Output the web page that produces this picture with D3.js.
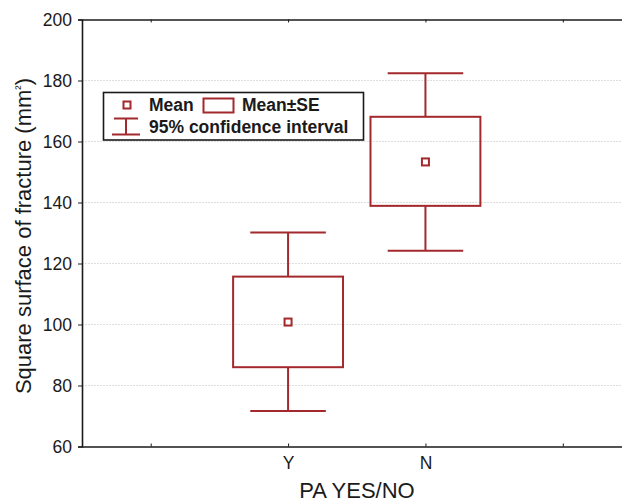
<!DOCTYPE html>
<html>
<head>
<meta charset="utf-8">
<script src="https://cdn.jsdelivr.net/npm/d3@7"></script>
<style>
    body { margin: 0; background: #fff; }
    svg { display: block; font-family: "Liberation Sans", Arial, sans-serif; }
</style>
</head>
<body>
<svg id="chart" width="622" height="503"></svg>
<script>
// data
const categories = ["Y", "N"];
const means = [100.8, 153.3];
const seLow = [86.0, 138.9];
const seHigh = [115.7, 168.1];
const ciLow = [71.6, 124.2];
const ciHigh = [130.2, 182.4];
const yTicks = [60, 80, 100, 120, 140, 160, 180, 200];
const xTickPos = [0, 1, 2, 3];

const red = "#a3292d";
const ink = "#1a1a1a";

const svg = d3.select("#chart");

// x positions: category i sits at i + 1
const x = d3.scaleLinear().domain([-0.5, 3.5]).range([82, 631.5]);
const y = d3.scaleLinear().domain([60, 200]).range([446.5, 19.5]);

// grid lines
svg.append("g")
    .selectAll("line")
    .data(yTicks.filter(d => d > 60 && d < 200))
    .join("line")
    .attr("x1", x(-0.5))
    .attr("x2", x(3.5))
    .attr("y1", d => y(d))
    .attr("y2", d => y(d))
    .attr("stroke", "#dedede")
    .attr("stroke-width", 1)
    .attr("stroke-dasharray", "2,1");

// left axis
const yAxis = svg.append("g")
    .attr("transform", `translate(${x(-0.5)},0)`)
    .call(d3.axisLeft(y).tickValues(yTicks).tickSize(4).tickPadding(6));
yAxis.select(".domain").attr("stroke", ink).attr("stroke-width", 1.6);
yAxis.selectAll(".tick line").attr("stroke", ink);
yAxis.selectAll(".tick text")
    .attr("fill", ink)
    .style("font-size", "17.5px")
    .style("font-family", "'Liberation Sans', Arial, sans-serif");

// bottom axis (ticks point inward)
const xAxis = svg.append("g")
    .attr("transform", `translate(0,${y(60)})`)
    .call(d3.axisBottom(x).tickValues(xTickPos).tickSizeInner(-3).tickSizeOuter(0)
        .tickPadding(10)
        .tickFormat(d => (d >= 1 && d <= categories.length) ? categories[d - 1] : ""));
xAxis.select(".domain").attr("stroke", ink).attr("stroke-width", 1.6);
xAxis.selectAll(".tick line").attr("stroke", ink);
xAxis.selectAll(".tick text")
    .attr("fill", ink)
    .style("font-size", "17.5px")
    .style("font-family", "'Liberation Sans', Arial, sans-serif");

// top frame
const topAxis = svg.append("g")
    .attr("transform", `translate(0,${y(200)})`)
    .call(d3.axisTop(x).tickValues(xTickPos).tickSizeInner(-3).tickSizeOuter(0).tickFormat(""));
topAxis.select(".domain").attr("stroke", ink).attr("stroke-width", 1.6);
topAxis.selectAll(".tick line").attr("stroke", ink);

// axis titles
const yTitle = svg.append("text")
    .attr("transform", "rotate(-90)")
    .attr("x", -y(129))
    .attr("y", 31)
    .attr("text-anchor", "middle")
    .attr("fill", ink)
    .style("font-size", "22px")
    .text("Square surface of fracture (mm");
yTitle.append("tspan")
    .attr("dy", "-7")
    .style("font-size", "13px")
    .text("²");
yTitle.append("tspan")
    .attr("dy", "7")
    .text(")");

svg.append("text")
    .attr("x", 357)
    .attr("y", 498)
    .attr("text-anchor", "middle")
    .attr("fill", ink)
    .style("font-size", "22px")
    .text("PA YES/NO");

// plot groups
const boxW = 0.8, capW = 0.55;
const groups = svg.append("g")
    .selectAll("g")
    .data(categories.map((c, i) => ({ c, i })))
    .join("g")
    .attr("fill", "none")
    .attr("stroke", red)
    .attr("stroke-width", 2);

// whiskers
groups.append("line")
    .attr("x1", d => x(d.i + 1)).attr("x2", d => x(d.i + 1))
    .attr("y1", d => y(ciHigh[d.i])).attr("y2", d => y(seHigh[d.i]));
groups.append("line")
    .attr("x1", d => x(d.i + 1)).attr("x2", d => x(d.i + 1))
    .attr("y1", d => y(seLow[d.i])).attr("y2", d => y(ciLow[d.i]));
// caps
groups.append("line")
    .attr("x1", d => x(d.i + 1 - capW / 2)).attr("x2", d => x(d.i + 1 + capW / 2))
    .attr("y1", d => y(ciHigh[d.i])).attr("y2", d => y(ciHigh[d.i]));
groups.append("line")
    .attr("x1", d => x(d.i + 1 - capW / 2)).attr("x2", d => x(d.i + 1 + capW / 2))
    .attr("y1", d => y(ciLow[d.i])).attr("y2", d => y(ciLow[d.i]));
// SE box
groups.append("rect")
    .attr("x", d => x(d.i + 1 - boxW / 2))
    .attr("width", d => x(d.i + 1 + boxW / 2) - x(d.i + 1 - boxW / 2))
    .attr("y", d => y(seHigh[d.i]))
    .attr("height", d => y(seLow[d.i]) - y(seHigh[d.i]));
// mean marker
groups.append("rect")
    .attr("x", d => x(d.i + 1) - 3.5)
    .attr("y", d => y(means[d.i]) - 3.5)
    .attr("width", 7)
    .attr("height", 7);

// legend
const lg = svg.append("g");
lg.append("rect")
    .attr("x", 103.5).attr("y", 92.5)
    .attr("width", 260).attr("height", 47.5)
    .attr("fill", "#fff")
    .attr("stroke", ink)
    .attr("stroke-width", 1.6);
lg.append("rect")
    .attr("x", 123.5).attr("y", 101.5)
    .attr("width", 7).attr("height", 7)
    .attr("fill", "none").attr("stroke", red).attr("stroke-width", 2);
lg.append("rect")
    .attr("x", 203.5).attr("y", 98.5)
    .attr("width", 30).attr("height", 14)
    .attr("fill", "none").attr("stroke", red).attr("stroke-width", 2);
lg.append("path")
    .attr("d", "M114,118.5H138M126,118.5V134.5M112,134.5H140")
    .attr("fill", "none").attr("stroke", red).attr("stroke-width", 2);

const legendText = [
    { t: "Mean", x: 149, y: 111 },
    { t: "Mean±SE", x: 242, y: 111 },
    { t: "95% confidence interval", x: 149, y: 133 }
];
lg.selectAll("text.lt")
    .data(legendText)
    .join("text")
    .attr("class", "lt")
    .attr("x", d => d.x)
    .attr("y", d => d.y)
    .attr("fill", ink)
    .style("font-size", "17.5px")
    .style("font-weight", "bold")
    .text(d => d.t);
</script>
</body>
</html>
